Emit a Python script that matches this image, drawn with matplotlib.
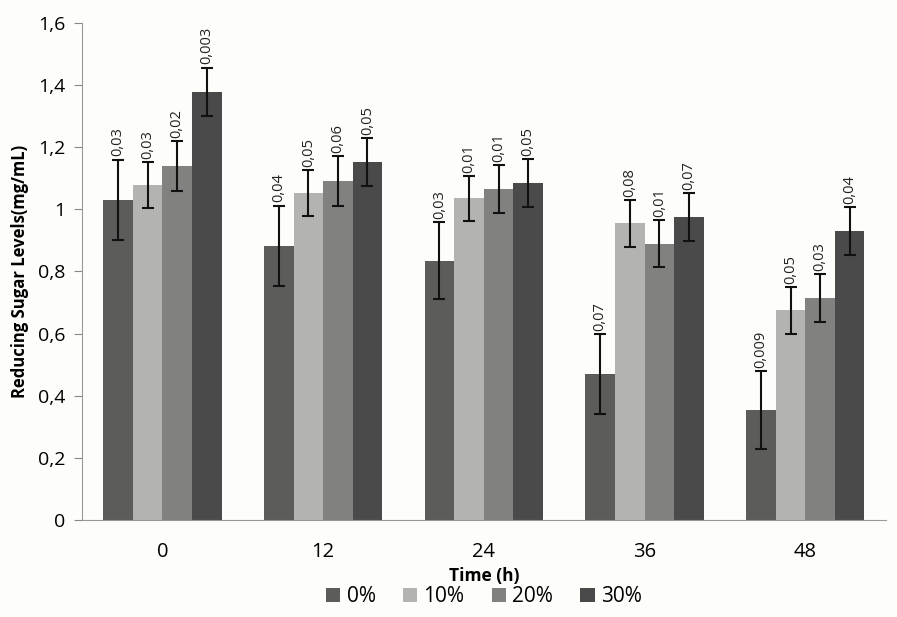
import numpy as np
import matplotlib.pyplot as plt

plt.rcParams['font.family'] = ['Open Sans', 'DejaVu Sans']

times = ['0', '12', '24', '36', '48']
series = ['0%', '10%', '20%', '30%']
means = [
    [1.03, 0.882, 0.835, 0.47, 0.355],
    [1.078, 1.052, 1.035, 0.955, 0.675],
    [1.14, 1.09, 1.065, 0.89, 0.715],
    [1.378, 1.152, 1.085, 0.975, 0.93],
]
errs = [
    [0.13, 0.13, 0.125, 0.13, 0.125],
    [0.075, 0.075, 0.072, 0.075, 0.075],
    [0.08, 0.08, 0.078, 0.075, 0.078],
    [0.078, 0.078, 0.078, 0.078, 0.078],
]
pvals = [
    ['0,03', '0,04', '0,03', '0,07', '0,009'],
    ['0,03', '0,05', '0,01', '0,08', '0,05'],
    ['0,02', '0,06', '0,01', '0,01', '0,03'],
    ['0,003', '0,05', '0,05', '0,07', '0,04'],
]
colors = ['#5c5c5a', '#b3b3b0', '#818180', '#4a4a4a']

fig = plt.figure(figsize=(8.97, 6.17), dpi=100, facecolor='#fdfdf9')
ax = fig.add_axes([0.0914, 0.157, 0.896, 0.806])
ax.set_facecolor('#fdfdf9')

x = np.arange(len(times))
w = 0.184
for i, name in enumerate(series):
    xs = x + (i - 1.5) * w
    ax.bar(xs, means[i], w, color=colors[i], label=name, zorder=2)
    ax.errorbar(xs, means[i], yerr=errs[i], fmt='none', ecolor='#111111',
                elinewidth=1.5, capsize=4, capthick=1.5, zorder=3)
    for xx, m, e, t in zip(xs, means[i], errs[i], pvals[i]):
        ax.text(xx, m + e + 0.01, t, rotation=90, ha='center', va='bottom',
                fontsize=10.5, color='#222222', zorder=4)

ax.set_xlim(-0.5, 4.5)
ax.set_ylim(0, 1.6)
ax.set_xticks(x)
ax.set_xticklabels(times, fontsize=14.5)
ax.tick_params(axis='x', length=0, pad=16)
yt = np.arange(0, 1.61, 0.2)
ax.set_yticks(yt)
ax.set_yticklabels([('%g' % round(v, 1)).replace('.', ',') for v in yt], fontsize=14)
ax.tick_params(axis='y', length=6, color='#888888', pad=6)
for s in ['top', 'right']:
    ax.spines[s].set_visible(False)
for s in ['left', 'bottom']:
    ax.spines[s].set_color('#999999')

ax.set_ylabel('Reducing Sugar Levels(mg/mL)', fontsize=12, fontweight='bold', labelpad=6)
ax.set_xlabel('Time (h)', fontsize=12.5, fontweight='bold', labelpad=3)
ax.legend(loc='upper center', bbox_to_anchor=(0.5, -0.108), ncol=4, frameon=False,
          fontsize=15, handlelength=0.7, handleheight=0.7, handletextpad=0.3,
          columnspacing=1.3, borderaxespad=0.2)

fig.savefig('out.png', dpi=100, facecolor=fig.get_facecolor())
